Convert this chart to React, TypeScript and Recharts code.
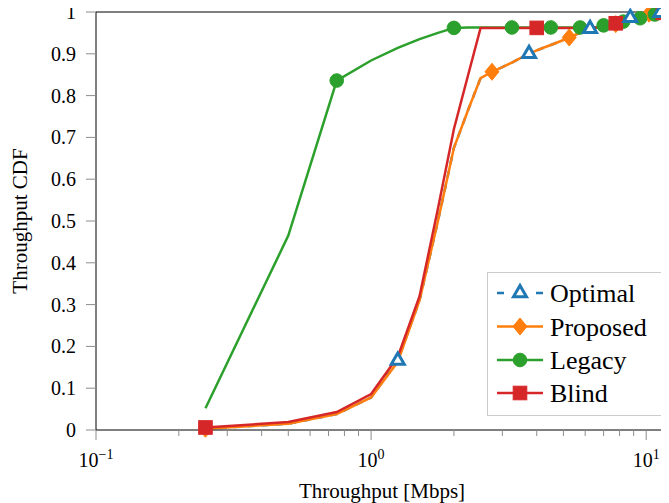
import React from 'react';
import { LineChart, Line, XAxis, YAxis, ReferenceLine } from 'recharts';

// ---------- data ----------
const throughput = [
  0.25, 0.5, 0.75, 1, 1.25, 1.5, 1.75, 2, 2.25, 2.5, 2.75, 3, 3.25, 3.5, 3.75, 4,
  4.25, 4.5, 4.75, 5, 5.25, 5.5, 5.75, 6, 6.25, 6.5, 6.75, 7, 7.25, 7.5, 7.75, 8,
  8.25, 8.5, 8.75, 9, 9.25, 9.5, 9.75, 10, 10.25, 10.5, 10.75, 11, 11.25, 11.5, 11.75, 12,
];

const optimalCdf = [
  0.003, 0.015, 0.038, 0.078, 0.166, 0.31, 0.5, 0.675, 0.765, 0.842, 0.857, 0.868, 0.879, 0.89, 0.9, 0.908,
  0.915, 0.921, 0.927, 0.933, 0.939, 0.945, 0.95, 0.955, 0.96, 0.962, 0.964, 0.966, 0.967, 0.969, 0.971, 0.974,
  0.978, 0.982, 0.986, 0.988, 0.99, 0.991, 0.993, 0.994, 0.996, 0.997, 0.997, 0.998, 0.998, 0.999, 1.0, 1.0,
];

const proposedCdf = [
  0.003, 0.015, 0.038, 0.078, 0.163, 0.31, 0.5, 0.675, 0.765, 0.842, 0.857, 0.868, 0.879, 0.89, 0.9, 0.908,
  0.915, 0.921, 0.927, 0.933, 0.939, 0.945, 0.95, 0.955, 0.96, 0.962, 0.964, 0.966, 0.967, 0.969, 0.971, 0.974,
  0.978, 0.982, 0.986, 0.988, 0.99, 0.991, 0.993, 0.994, 0.996, 0.997, 0.997, 0.998, 0.998, 0.999, 1.0, 1.0,
];

const legacyCdf = [
  0.052, 0.465, 0.836, 0.884, 0.914, 0.935, 0.95, 0.962, 0.963, 0.963, 0.963, 0.963, 0.963, 0.963, 0.963, 0.963,
  0.963, 0.963, 0.963, 0.963, 0.963, 0.963, 0.963, 0.963, 0.963, 0.963, 0.965, 0.968, 0.97, 0.972, 0.974, 0.976,
  0.977, 0.979, 0.981, 0.982, 0.984, 0.985, 0.987, 0.989, 0.99, 0.992, 0.994, 0.995, 0.997, 0.998, 0.999, 1.0,
];

const blindCdf = [
  0.006, 0.019, 0.043, 0.086, 0.175, 0.32, 0.53, 0.72, 0.848, 0.962, 0.962, 0.962, 0.962, 0.962, 0.962, 0.962,
  0.962, 0.962, 0.962, 0.962, 0.962, 0.962, 0.962, 0.962, 0.962, 0.962, 0.964, 0.966, 0.968, 0.97, 0.973, 0.975,
  0.977, 0.979, 0.981, 0.983, 0.985, 0.987, 0.988, 0.99, 0.992, 0.993, 0.995, 0.996, 0.997, 0.998, 0.999, 1.0,
];

const seriesNames = ['Optimal', 'Proposed', 'Legacy', 'Blind'];

const yTicks = [0, 0.1, 0.2, 0.3, 0.4, 0.5, 0.6, 0.7, 0.8, 0.9, 1];
const yTickLabels = ['0', '0.1', '0.2', '0.3', '0.4', '0.5', '0.6', '0.7', '0.8', '0.9', '1'];

const xMajorTicks = [0.1, 1, 10];
const xMajorExponents = ['\u22121', '0', '1'];
const xMinorTicks = [0.2, 0.3, 0.4, 0.5, 0.6, 0.7, 0.8, 0.9, 2, 3, 4, 5, 6, 7, 8, 9];

const xLabel = 'Throughput [Mbps]';
const yLabel = 'Throughput CDF';

// ---------- styling ----------
const FONT = '"Liberation Serif", "Times New Roman", Times, serif';
const BLUE = '#1f77b4';
const ORANGE = '#ff7f0e';
const GREEN = '#2ca02c';
const RED = '#d62728';
const TICK_GRAY = '#8c8c8c';

const W = 669;
const H = 503;

const data = throughput.map((x, i) => ({
  x,
  optimal: optimalCdf[i],
  proposed: proposedCdf[i],
  legacy: legacyCdf[i],
  blind: blindCdf[i],
}));

const allXTicks = [...xMajorTicks, ...xMinorTicks].sort((a, b) => a - b);

// ---------- markers ----------
const Diamond = ({ cx, cy }: { cx: number; cy: number }) => (
  <path d={`M${cx},${cy - 8.5} L${cx + 7},${cy} L${cx},${cy + 8.5} L${cx - 7},${cy} Z`} fill={ORANGE} stroke={ORANGE} strokeWidth={1} />
);
const Circle = ({ cx, cy }: { cx: number; cy: number }) => (
  <circle cx={cx} cy={cy} r={6.8} fill={GREEN} stroke={GREEN} strokeWidth={1} />
);
const Square = ({ cx, cy }: { cx: number; cy: number }) => (
  <rect x={cx - 6.8} y={cy - 6.8} width={13.6} height={13.6} fill={RED} stroke={RED} strokeWidth={1} />
);
const Triangle = ({ cx, cy }: { cx: number; cy: number }) => {
  const r = 7.5;
  const dx = r * 0.866;
  return (
    <path
      d={`M${cx},${cy - r} L${cx + dx},${cy + r / 2} L${cx - dx},${cy + r / 2} Z`}
      fill="#ffffff"
      stroke={BLUE}
      strokeWidth={3}
      strokeLinejoin="miter"
    />
  );
};

const makeDot = (Shape: any, every: number, phase: number) => (props: any) => {
  const { cx, cy, index } = props;
  if (index % every !== phase || cx == null || cy == null) return <g key={`n-${index}`} />;
  return (
    <g key={`m-${index}`}>
      <Shape cx={cx} cy={cy} />
    </g>
  );
};

// ---------- ticks ----------
const XTick = (props: any) => {
  const { x, y, payload } = props;
  const v = payload.value;
  const mi = xMajorTicks.indexOf(v);
  const major = mi >= 0;
  return (
    <g>
      <line x1={x} x2={x} y1={y} y2={y + (major ? 10 : 6)} stroke={TICK_GRAY} strokeWidth={1} />
      {major && (
        <text x={x} y={y + 37} textAnchor="middle" fontFamily={FONT} fontSize={20} fill="#000">
          <tspan>10</tspan>
          <tspan dy={-8} fontSize={14}>{xMajorExponents[mi]}</tspan>
        </text>
      )}
    </g>
  );
};

const YTick = (props: any) => {
  const { x, y, payload } = props;
  const i = yTicks.indexOf(payload.value);
  return (
    <g>
      <line x1={x - 10} x2={x} y1={y} y2={y} stroke={TICK_GRAY} strokeWidth={1} />
      <text x={x - 20} y={y} dy="0.35em" textAnchor="end" fontFamily={FONT} fontSize={20} fill="#000">
        {yTickLabels[i >= 0 ? i : 0]}
      </text>
    </g>
  );
};

const XTitle = (props: any) => {
  const vb = props.viewBox || { x: 96, y: 430, width: 572, height: 73 };
  return (
    <text x={vb.x + vb.width / 2} y={vb.y + 68} textAnchor="middle" fontFamily={FONT} fontSize={21} fill="#000">
      {xLabel}
    </text>
  );
};

const YTitle = (props: any) => {
  const vb = props.viewBox || { x: 0, y: 12, width: 96, height: 418 };
  const cx = 27;
  const cy = vb.y + vb.height / 2;
  return (
    <text
      x={cx}
      y={cy}
      transform={`rotate(-90 ${cx} ${cy})`}
      textAnchor="middle"
      fontFamily={FONT}
      fontSize={21}
      fill="#000"
    >
      {yLabel}
    </text>
  );
};

// ---------- legend ----------
const LegendBox = () => {
  const rowsY = [21, 54.5, 88, 121];
  const colors = [BLUE, ORANGE, GREEN, RED];
  const shapes = [Triangle, Diamond, Circle, Square];
  return (
    <svg width={175} height={144} style={{ position: 'absolute', left: 487, top: 272 }}>
      <rect x={0.5} y={0.5} width={174} height={143} fill="#ffffff" stroke="#cccccc" strokeWidth={1} />
      {seriesNames.map((name, i) => {
        const Shape = shapes[i];
        const cy = rowsY[i];
        return (
          <g key={name}>
            <line
              x1={10}
              x2={56}
              y1={cy}
              y2={cy}
              stroke={colors[i]}
              strokeWidth={2.5}
              strokeDasharray={i === 0 ? '7 32' : undefined}
            />
            <Shape cx={33} cy={cy} />
            <text x={63} y={cy} dy="0.35em" fontFamily={FONT} fontSize={26} fill="#000">
              {name}
            </text>
          </g>
        );
      })}
    </svg>
  );
};

export default function App() {
  return (
    <div style={{ position: 'relative', width: W, height: H, margin: '-8px 0 0 -8px' }}>
      <LineChart width={W} height={H} data={data} margin={{ top: 12, right: 1, bottom: 0, left: 0 }}>
        <XAxis
          dataKey="x"
          type="number"
          scale="log"
          domain={[0.1, 12]}
          ticks={allXTicks}
          interval={0}
          tick={<XTick />}
          tickLine={false}
          tickSize={0}
          tickMargin={0}
          height={73}
          axisLine={{ stroke: '#000', strokeWidth: 1 }}
          label={<XTitle />}
        />
        <YAxis
          type="number"
          domain={[0, 1]}
          ticks={yTicks}
          interval={0}
          tick={<YTick />}
          tickLine={false}
          tickSize={0}
          tickMargin={0}
          width={96}
          axisLine={{ stroke: '#000', strokeWidth: 1 }}
          label={<YTitle />}
        />
        <ReferenceLine y={1} stroke="#000" strokeWidth={1} />
        <ReferenceLine x={12} stroke="#000" strokeWidth={1} />

        {/* lines */}
        <Line dataKey="optimal" stroke={BLUE} strokeWidth={2.5} strokeDasharray="7 7" dot={false} activeDot={false} isAnimationActive={false} />
        <Line dataKey="proposed" stroke={ORANGE} strokeWidth={2.5} dot={false} activeDot={false} isAnimationActive={false} />
        <Line dataKey="legacy" stroke={GREEN} strokeWidth={2.5} dot={false} activeDot={false} isAnimationActive={false} />
        <Line dataKey="blind" stroke={RED} strokeWidth={2.5} dot={false} activeDot={false} isAnimationActive={false} />

        {/* markers */}
        <Line dataKey="proposed" stroke="none" dot={makeDot(Diamond, 10, 0)} activeDot={false} isAnimationActive={false} />
        <Line dataKey="legacy" stroke="none" dot={makeDot(Circle, 5, 2)} activeDot={false} isAnimationActive={false} />
        <Line dataKey="blind" stroke="none" dot={makeDot(Square, 15, 0)} activeDot={false} isAnimationActive={false} />
        <Line dataKey="optimal" stroke="none" dot={makeDot(Triangle, 10, 4)} activeDot={false} isAnimationActive={false} />
      </LineChart>
      <LegendBox />
    </div>
  );
}
